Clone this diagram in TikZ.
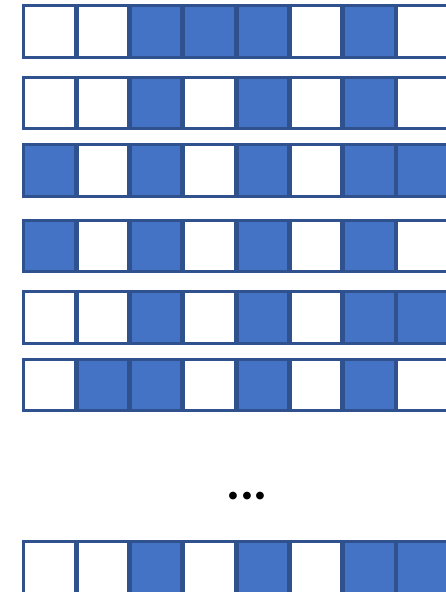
\documentclass[tikz,border=0pt]{standalone}
\usepackage{fontspec}
\setmainfont{Carlito}
\definecolor{CellBlue}{HTML}{4472C4}
\definecolor{CellEdge}{HTML}{2F528F}
\tikzset{cell/.style={draw=CellEdge,line width=2.2pt,minimum size=1.29cm,inner sep=0pt}}

\begin{document}
\begin{tikzpicture}[x=0.025cm,y=0.025cm]
  \clip (0,0) rectangle (446,-592);
  \fill[white] (0,0) rectangle (446,-592);
  \foreach \r/\y/\bits in {1/31.5/{0,0,1,1,1,0,1,0},2/103/{0,0,1,0,1,0,1,0},3/170.5/{1,0,1,0,1,0,1,1},4/246/{1,0,1,0,1,0,1,0},5/317.5/{0,0,1,0,1,0,1,1},6/385/{0,1,1,0,1,0,1,0},7/567.5/{0,0,1,0,1,0,1,1}}{
    \foreach \b [count=\c] in \bits {\ifnum\b=1 \def\cfill{CellBlue}\else\def\cfill{white}\fi
      \node[cell,fill=\cfill] (r\r c\c) at ({23+26.6+53.3*(\c-1)},-\y) {};}}
  \node[anchor=base] (dots) at (247,-499) {\fontsize{37}{44}\selectfont\textbf{...}};
\end{tikzpicture}
\end{document}
